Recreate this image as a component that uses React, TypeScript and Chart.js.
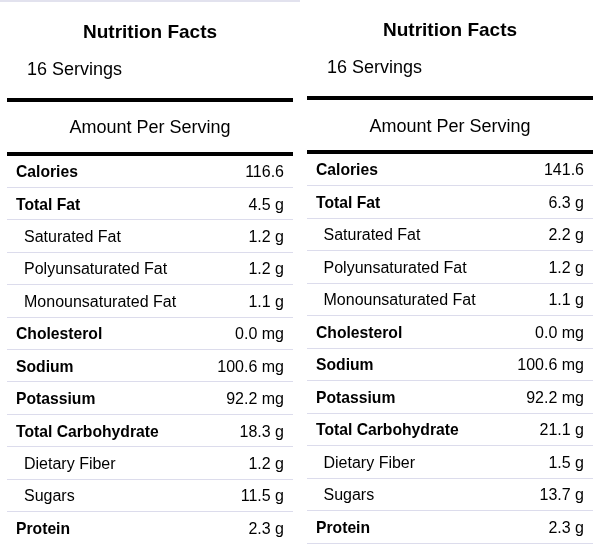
import React, { useEffect, useRef } from "react";
import { Chart, registerables } from "chart.js";

Chart.register(...registerables);

const TITLE = "Nutrition Facts";
const SERVINGS = "16 Servings";
const AMOUNT_LABEL = "Amount Per Serving";

const nutrients = [
  "Calories",
  "Total Fat",
  "Saturated Fat",
  "Polyunsaturated Fat",
  "Monounsaturated Fat",
  "Cholesterol",
  "Sodium",
  "Potassium",
  "Total Carbohydrate",
  "Dietary Fiber",
  "Sugars",
  "Protein",
];
const isSubItem = [false, false, true, true, true, false, false, false, false, true, true, false];
const units = ["", "g", "g", "g", "g", "mg", "mg", "mg", "g", "g", "g", "g"];
const valuesA = [116.6, 4.5, 1.2, 1.2, 1.1, 0.0, 100.6, 92.2, 18.3, 1.2, 11.5, 2.3];
const valuesB = [141.6, 6.3, 2.2, 1.2, 1.1, 0.0, 100.6, 92.2, 21.1, 1.5, 13.7, 2.3];

const FONT = "'Liberation Sans', Arial, Helvetica, sans-serif";

type Geom = {
  titleY: number;
  servingsX: number;
  servingsY: number;
  rule1Y: number;
  amountY: number;
  rule2Y: number;
  areaTop: number;
  areaBottom: number;
  subIndent: number;
  topBorder: boolean;
};

const leftGeom: Geom = {
  titleY: 38,
  servingsX: 27,
  servingsY: 75,
  rule1Y: 98,
  amountY: 133,
  rule2Y: 152,
  areaTop: 155,
  areaBottom: 544,
  subIndent: 17,
  topBorder: true,
};
const rightGeom: Geom = {
  titleY: 36,
  servingsX: 27,
  servingsY: 73,
  rule1Y: 96,
  amountY: 132,
  rule2Y: 150,
  areaTop: 153,
  areaBottom: 543,
  subIndent: 16.5,
  topBorder: false,
};

function Panel({ values, geom }: { values: number[]; geom: Geom }) {
  const ref = useRef<HTMLCanvasElement>(null);
  useEffect(() => {
    const canvas = ref.current;
    if (!canvas) return;
    const textPlugin = {
      id: "nutritionText",
      afterDraw(chart: any) {
        const ctx = chart.ctx as CanvasRenderingContext2D;
        const area = chart.chartArea;
        const y = chart.scales.y;
        const W = chart.width;
        ctx.save();
        if (geom.topBorder) {
          ctx.fillStyle = "#e2e2ee";
          ctx.fillRect(0, 0, W, 2);
        }
        ctx.fillStyle = "#000";
        ctx.textBaseline = "alphabetic";
        // header
        ctx.textAlign = "center";
        ctx.font = `bold 19px ${FONT}`;
        ctx.fillText(TITLE, W / 2, geom.titleY);
        ctx.textAlign = "left";
        ctx.font = `18px ${FONT}`;
        ctx.fillText(SERVINGS, geom.servingsX, geom.servingsY);
        ctx.textAlign = "center";
        ctx.fillText(AMOUNT_LABEL, W / 2, geom.amountY);
        ctx.fillRect(area.left, geom.rule1Y, area.right - area.left, 4);
        ctx.fillRect(area.left, geom.rule2Y, area.right - area.left, 4);
        // rows
        nutrients.forEach((label, i) => {
          const cy = y.getPixelForValue(i);
          const base = cy + 6;
          ctx.textAlign = "left";
          ctx.font = isSubItem[i] ? `16px ${FONT}` : `bold 15.7px ${FONT}`;
          ctx.fillText(label, area.left + (isSubItem[i] ? geom.subIndent : 9), base);
          ctx.textAlign = "right";
          ctx.font = `16px ${FONT}`;
          const u = units[i];
          ctx.fillText(values[i].toFixed(1) + (u ? " " + u : ""), area.right - 9, base);
        });
        ctx.restore();
      },
    };
    const chart = new Chart(canvas, {
      type: "bar",
      data: { labels: nutrients, datasets: [] },
      options: {
        indexAxis: "y",
        animation: false,
        responsive: false,
        devicePixelRatio: 1,
        events: [],
        layout: {
          padding: {
            top: geom.areaTop,
            bottom: 544 - geom.areaBottom,
            left: 7,
            right: 7,
          },
        },
        plugins: {
          legend: { display: false },
          title: { display: false },
          tooltip: { enabled: false },
        },
        scales: {
          x: { display: false },
          y: {
            type: "category",
            offset: true,
            grid: {
              offset: true,
              color: "#dcdcec",
              lineWidth: 1,
              drawTicks: false,
            },
            ticks: { display: false },
            border: { display: false },
          },
        },
      } as any,
      plugins: [textPlugin],
    });
    return () => chart.destroy();
  }, [values, geom]);
  return (
    <canvas
      ref={ref}
      width={300}
      height={544}
      style={{ display: "block", width: 300, height: 544 }}
    />
  );
}

export default function App() {
  return (
    <div
      style={{
        position: "absolute",
        left: 0,
        top: 0,
        width: 600,
        height: 544,
        display: "flex",
        background: "#fff",
        overflow: "hidden",
      }}
    >
      <Panel values={valuesA} geom={leftGeom} />
      <Panel values={valuesB} geom={rightGeom} />
    </div>
  );
}
